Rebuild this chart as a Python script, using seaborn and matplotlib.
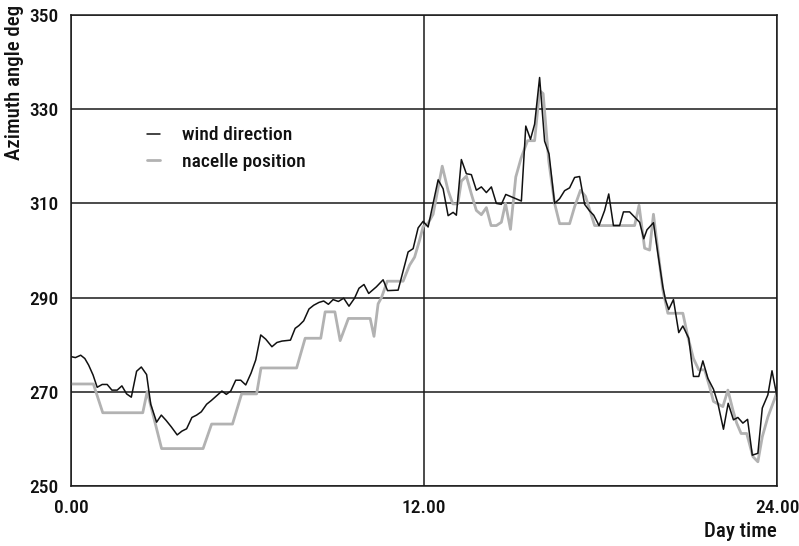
import pandas as pd
import matplotlib.pyplot as plt
from matplotlib.ticker import FixedLocator, MultipleLocator, FormatStrFormatter
import seaborn as sns

# wind direction (hours, degrees)
wind_time = [0.00, 0.15, 0.33, 0.47, 0.60, 0.75, 0.89, 1.06, 1.23, 1.39, 1.57, 1.73, 1.89,
             2.05, 2.23, 2.39, 2.57, 2.71, 2.91, 3.07, 3.23, 3.41, 3.61, 3.77, 3.93, 4.11,
             4.27, 4.43, 4.61, 4.77, 4.95, 5.13, 5.28, 5.43, 5.60, 5.77, 5.94, 6.12, 6.28,
             6.45, 6.62, 6.83, 7.00, 7.17, 7.46, 7.62, 7.75, 7.91, 8.09, 8.25, 8.43, 8.59,
             8.75, 8.91, 9.09, 9.27, 9.45, 9.64, 9.79, 9.96, 10.12, 10.38, 10.61, 10.76,
             11.12, 11.46, 11.63, 11.80, 11.97, 12.14, 12.48, 12.65, 12.82, 12.99, 13.10,
             13.27, 13.44, 13.61, 13.78, 13.95, 14.12, 14.29, 14.46, 14.63, 14.78, 15.31,
             15.46, 15.62, 15.76, 15.93, 16.10, 16.25, 16.44, 16.61, 16.78, 16.95, 17.12,
             17.29, 17.46, 17.63, 17.77, 17.95, 18.14, 18.28, 18.44, 18.65, 18.78, 18.99,
             19.16, 19.33, 19.47, 19.58, 19.80, 19.95, 20.12, 20.21, 20.32, 20.48, 20.66,
             20.80, 21.00, 21.16, 21.34, 21.48, 21.65, 21.84, 21.99, 22.18, 22.34, 22.52,
             22.67, 22.84, 23.00, 23.16, 23.35, 23.50, 23.69, 23.83, 24.00]
wind_deg = [277.5, 277.3, 277.8, 277.1, 275.7, 273.6, 271.0, 271.6, 271.6, 270.4, 270.4, 271.3, 269.6,
            268.9, 274.4, 275.3, 273.7, 267.4, 263.6, 265.1, 264.0, 262.6, 260.9, 261.7, 262.2, 264.6,
            265.1, 265.8, 267.4, 268.2, 269.2, 270.2, 269.5, 270.2, 272.5, 272.5, 271.5, 274.0, 276.8,
            282.1, 281.2, 279.6, 280.5, 280.8, 281.0, 283.5, 284.1, 285.1, 287.6, 288.4, 289.0, 289.3,
            288.6, 289.6, 289.2, 289.9, 288.2, 289.9, 292.0, 292.8, 290.9, 292.3, 293.8, 291.5,
            291.6, 299.7, 300.4, 304.8, 306.2, 305.0, 315.0, 313.1, 307.4, 308.1, 307.5,
            319.3, 316.3, 316.1, 312.8, 313.5, 312.3, 313.5, 310.0, 309.8, 311.9, 310.5,
            326.4, 323.6, 326.8, 336.7, 323.2, 320.5, 310.0, 311.0, 312.7, 313.3, 315.5,
            315.7, 309.8, 308.4, 307.5, 305.3, 308.5, 312.0, 305.3, 305.3, 308.2, 308.2,
            307.1, 306.0, 302.5, 304.4, 305.9, 299.4, 292.3, 289.5, 287.5, 289.6, 282.6,
            284.0, 281.4, 273.3, 273.3, 276.6, 272.9, 270.6, 267.6, 262.1, 267.6, 264.1,
            264.6, 263.4, 264.2, 256.6, 257.0, 266.6, 269.4, 274.5, 269.0]

# nacelle position (hours, degrees)
nacelle_time = [0.00, 0.76, 1.08, 2.44, 2.59, 3.08, 4.49, 4.78, 5.49, 5.80, 6.31, 6.46, 7.67,
                7.96, 8.49, 8.64, 8.97, 9.15, 9.43, 10.17, 10.30, 10.44, 10.56, 10.75, 11.29,
                11.51, 11.68, 11.85, 11.97, 12.14, 12.31, 12.62, 12.82, 12.98, 13.15, 13.27,
                13.44, 13.61, 13.78, 13.95, 14.12, 14.28, 14.46, 14.63, 14.77, 14.94, 15.12,
                15.30, 15.52, 15.76, 15.93, 16.05, 16.24, 16.44, 16.61, 16.95, 17.12, 17.32,
                17.49, 17.80, 19.16, 19.31, 19.50, 19.67, 19.80, 19.95, 20.12, 20.29, 20.80,
                20.97, 21.16, 21.34, 21.54, 21.71, 21.84, 22.16, 22.33, 22.50, 22.63, 22.78,
                22.97, 23.18, 23.35, 23.50, 23.69, 24.00]
nacelle_deg = [271.7, 271.7, 265.6, 265.6, 270.1, 258.0, 258.0, 263.2, 263.2, 269.6, 269.6, 275.1, 275.1,
               281.4, 281.4, 287.0, 287.0, 280.9, 285.6, 285.6, 281.8, 288.7, 290.1, 293.5, 293.5,
               296.9, 298.6, 302.2, 305.1, 305.8, 307.7, 317.9, 312.7, 309.9, 309.9, 314.7,
               315.8, 312.0, 308.5, 307.6, 309.1, 305.3, 305.3, 306.0, 310.0, 304.5, 315.6,
               319.6, 323.3, 323.3, 333.9, 333.3, 319.0, 310.0, 305.7, 305.7, 309.3, 312.8,
               311.5, 305.3, 305.3, 309.6, 300.5, 300.1, 307.7, 300.1, 291.6, 286.7, 286.7,
               281.7, 277.1, 274.7, 274.7, 271.1, 268.0, 266.9, 270.4, 266.2, 263.4, 261.2,
               261.2, 256.3, 255.2, 260.5, 264.7, 269.9]

y_ticks = [250, 270, 290, 310, 330, 350]
x_ticks = [0, 12, 24]

wind = pd.DataFrame({"time": wind_time, "deg": wind_deg})
nacelle = pd.DataFrame({"time": nacelle_time, "deg": nacelle_deg})

sns.set_style("white")
plt.rcParams["font.family"] = ["Roboto Condensed", "Roboto", "DejaVu Sans"]
plt.rcParams["font.stretch"] = "condensed"
plt.rcParams["font.weight"] = "medium"
plt.rcParams["axes.labelweight"] = "medium"
plt.rcParams["text.color"] = "#111111"
plt.rcParams["axes.labelcolor"] = "#111111"
plt.rcParams["xtick.color"] = "#111111"
plt.rcParams["ytick.color"] = "#111111"

fig = plt.figure(figsize=(7.99, 5.46), dpi=100)
ax = fig.add_axes([71 / 799, 1 - 486.3 / 546, 706 / 799, (486.3 - 14.8) / 546])

sns.lineplot(data=nacelle, x="time", y="deg", color="#b2b2b2", linewidth=2.0,
             estimator=None, sort=False, label="nacelle position", ax=ax)
sns.lineplot(data=wind, x="time", y="deg", color="#111111", linewidth=1.1,
             estimator=None, sort=False, label="wind direction", ax=ax)

ax.set_xlim(0, 24)
ax.set_ylim(250, 350)
ax.xaxis.set_major_locator(FixedLocator(x_ticks))
ax.xaxis.set_minor_locator(MultipleLocator(2))
ax.xaxis.set_major_formatter(FormatStrFormatter("%.2f"))
ax.yaxis.set_major_locator(FixedLocator(y_ticks))

ax.grid(True, which="major", color="#1a1a1a", linewidth=1.1)
ax.set_axisbelow(True)
for s in ax.spines.values():
    s.set_color("#1a1a1a")
    s.set_linewidth(1.1)

ax.tick_params(axis="x", which="major", direction="out", length=7, width=1.1,
               color="#1a1a1a", pad=2, labelsize=14)
ax.tick_params(axis="x", which="minor", direction="out", length=6, width=1.1, color="#1a1a1a")
ax.tick_params(axis="y", length=0, pad=9, labelsize=14)

ax.set_xlabel("Day time", loc="right", fontsize=15, labelpad=4)
ax.set_ylabel("Azimuth angle deg", loc="top", fontsize=15)
ax.yaxis.set_label_coords(-0.066, 1.022)

h, l = ax.get_legend_handles_labels()
ax.legend(h[::-1], l[::-1], loc="upper left", bbox_to_anchor=(0.094, 0.784), frameon=False,
          fontsize=14, handlelength=0.65, handletextpad=1.15, labelspacing=0.45, borderpad=0)

plt.savefig("out.png", dpi=100)
